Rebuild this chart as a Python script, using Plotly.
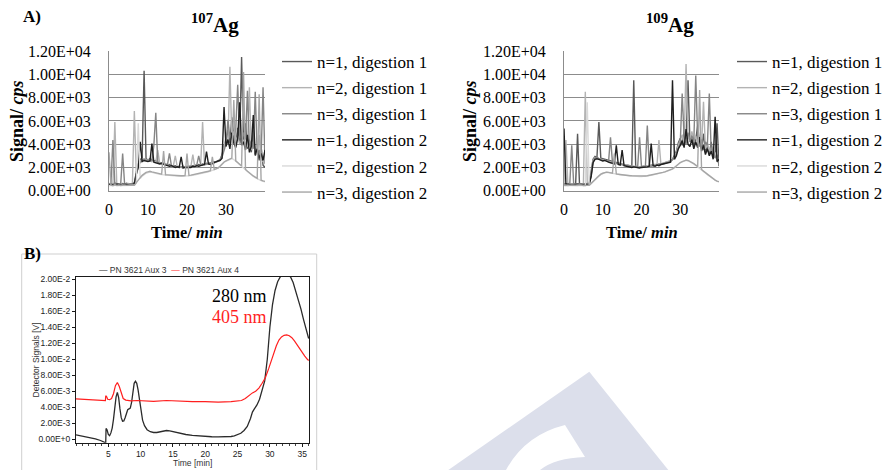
import plotly.graph_objects as go

W, H = 888, 470
PAGE_MARGIN = 0  # body margin is removed by the post_script below

# ---------------- Panel A data (ICP-MS signal, cps) ----------------
TIME_A = [i / 2 for i in range(81)]  # time axis, minutes (0.5 min sampling)

SERIES_NAMES = ["n=1, digestion 1", "n=2, digestion 1", "n=3, digestion 1",
                "n=1, digestion 2", "n=2, digestion 2", "n=3, digestion 2"]
SERIES_COLORS = ["#595959", "#b3b3b3", "#858585", "#1f1f1f", "#d9d9d9", "#a6a6a6"]

A_X_TICKS = [0, 10, 20, 30]
A_Y_TICKS = [0, 2000, 4000, 6000, 8000, 10000, 12000]
A_Y_TICK_LABELS = ["0.00E+00", "2.00E+03", "4.00E+03", "6.00E+03",
                   "8.00E+03", "1.00E+04", "1.20E+04"]

# 107Ag
AG107_N1_D1 = [620, 540, 580, 650, 560, 600, 530, 610, 570, 640,
               590, 560, 620, 680, 1600, 2300, 2650, 2850, 10300, 2750,
               2600, 2750, 2650, 2550, 2600, 2450, 2400, 2300, 2350, 2250,
               2200, 2250, 2150, 2100, 2150, 2050, 2100, 2000, 2050, 2000,
               2100, 2050, 2150, 2100, 2200, 2150, 2250, 2200, 2300, 2250,
               2350, 2300, 2400, 2450, 2500, 2450, 2600, 2700, 3100, 3900,
               4300, 5200, 4100, 6300, 4600, 3900, 5400, 4200, 11500, 4100,
               5800, 3600, 4400, 3300, 5200, 3000, 3400, 2600, 3800, 2200,
               2000]
AG107_N2_D1 = [560, 600, 520, 5900, 540, 580, 610, 520, 560, 590,
               620, 540, 600, 6850, 1500, 2200, 2500, 2700, 2750, 2650,
               2700, 2600, 2500, 2550, 2450, 3500, 2350, 2300, 2250, 2300,
               2200, 2150, 2100, 2150, 3000, 2050, 2000, 2050, 2000, 2050,
               2000, 2050, 2100, 3100, 2050, 2150, 2100, 2200, 5900, 2200,
               2250, 2300, 2250, 2350, 2400, 2450, 2550, 2600, 3000, 3800,
               4600, 4000, 10650, 4400, 5100, 4200, 4700, 4000, 4500, 4300,
               4100, 3800, 8900, 3500, 4200, 3300, 3100, 4800, 2700, 2500,
               2300]
AG107_N3_D1 = [600, 580, 4350, 550, 620, 560, 590, 3200, 570, 600,
               550, 610, 580, 640, 1400, 2100, 2450, 2600, 2700, 2600,
               2650, 2550, 2600, 3900, 6700, 2400, 2350, 2400, 2300, 2250,
               2250, 3200, 2150, 2100, 2100, 2050, 2000, 2050, 2100, 2000,
               2050, 2100, 2050, 2150, 2100, 2200, 3000, 2250, 2200, 2300,
               2300, 2350, 2400, 2350, 2450, 2500, 2550, 2650, 2900, 3500,
               4000, 6100, 4500, 4900, 4300, 5300, 9100, 4600, 4100, 5000,
               4400, 8600, 3900, 4300, 3600, 8500, 3200, 3500, 2900, 8900,
               2400]
AG107_N1_D2 = [500, 560, 520, 480, 550, 510, 530, 490, 540, 520,
               560, 500, 530, 600, 1400, 2000, 4200, 2500, 2600, 2550,
               2500, 2550, 4050, 2450, 2400, 2350, 2300, 2350, 2250, 2200,
               2150, 2100, 2150, 2050, 2000, 2050, 2000, 2900, 1950, 2000,
               2000, 2050, 2000, 2100, 2050, 2150, 2100, 2150, 2200, 2250,
               3350, 2300, 2250, 2350, 2400, 2500, 2550, 2600, 2800, 7200,
               3800, 4400, 3600, 5000, 4100, 3700, 4500, 7600, 3900, 4200,
               3500, 4800, 3300, 3800, 6500, 3100, 3600, 2800, 3200, 2600,
               3500]
AG107_N2_D2 = [420, 460, 400, 480, 430, 450, 410, 470, 440, 460,
               430, 450, 470, 460, 650, 5800, 1050, 1250, 1400, 1500,
               1550, 1600, 1580, 1520, 1480, 1430, 1400, 1380, 1360, 1330,
               1320, 1300, 1280, 1270, 1260, 1250, 1240, 1240, 1240, 1250,
               1260, 1280, 1300, 1330, 1360, 1400, 1430, 1460, 1500, 1540,
               1580, 1630, 1680, 1730, 1780, 1850, 1930, 2080, 2280, 2430,
               2530, 2630, 2730, 2760, 2680, 2530, 2380, 2230, 2080, 1930,
               1780, 1630, 1480, 1360, 1230, 1130, 1030, 940, 870, 810,
               770]
AG107_N3_D2 = [3300, 480, 450, 500, 460, 490, 440, 470, 500, 460,
               480, 450, 490, 470, 720, 920, 1120, 1320, 1470, 1570,
               1620, 1670, 1620, 1570, 1520, 1470, 1440, 1420, 3400, 1370,
               1360, 1340, 1320, 1310, 1300, 1290, 1280, 1280, 1280, 1290,
               3200, 1320, 1340, 1370, 1400, 1440, 1470, 1500, 1540, 1580,
               1620, 1670, 1720, 2900, 1820, 1890, 1970, 2120, 2320, 2470,
               2570, 2670, 2770, 2800, 7800, 2570, 2420, 2270, 2120, 10200,
               1820, 1670, 1520, 1400, 1270, 1170, 1070, 8300, 900, 840,
               800]

# 109Ag
AG109_N1_D1 = [600, 560, 620, 580, 540, 600, 570, 4900, 590, 550,
               610, 580, 560, 620, 1500, 2700, 2950, 2850, 5900, 2800,
               2750, 2700, 2650, 2600, 2550, 2500, 2450, 2400, 2350, 2300,
               2300, 2250, 2200, 2200, 2150, 2100, 9500, 2100, 2050, 2050,
               2100, 2050, 2100, 2150, 2100, 2200, 2150, 2250, 2200, 2300,
               2250, 2350, 2400, 2450, 2500, 2550, 2700, 3000, 3400, 4100,
               4500, 3900, 5200, 4400, 9500, 4200, 4800, 3800, 4400, 5600,
               4000, 3600, 4900, 3300, 3800, 3100, 4200, 2800, 3000, 5800,
               2100]
AG109_N2_D1 = [550, 4350, 520, 580, 540, 600, 530, 560, 590, 520,
               560, 8500, 600, 580, 1400, 2600, 2850, 2800, 2750, 2700,
               2700, 2650, 2600, 2550, 2500, 2450, 2400, 2350, 2300, 2300,
               2250, 2200, 2200, 2150, 2100, 2100, 2050, 2100, 2050, 2050,
               2050, 2100, 2100, 2150, 2150, 2200, 2200, 2250, 2250, 4350,
               2300, 2350, 2400, 2450, 2500, 2600, 2650, 2900, 3300, 3900,
               4400, 4800, 4100, 10900, 4600, 4300, 5100, 4200, 4700, 4000,
               4500, 3900, 7650, 3600, 4100, 3400, 3700, 3000, 3300, 2600,
               2300]
AG109_N3_D1 = [580, 600, 550, 620, 3900, 560, 590, 540, 610, 570,
               600, 560, 630, 600, 1300, 2500, 2800, 2900, 2750, 2650,
               2600, 2650, 2550, 2500, 4600, 2450, 2400, 2350, 2300, 2250,
               2250, 2200, 2150, 2150, 2100, 2050, 2100, 2050, 2000, 4600,
               2050, 2100, 2050, 5600, 2150, 2100, 2200, 2150, 2250, 2200,
               2300, 2300, 2350, 2450, 2450, 2500, 2650, 2850, 3200, 3700,
               4100, 8350, 4600, 4000, 5000, 4300, 4700, 4200, 9900, 4500,
               3800, 4400, 3500, 4200, 3900, 8350, 3200, 3500, 2800, 3100,
               2200]
AG109_N1_D2 = [5350, 520, 560, 500, 540, 490, 530, 560, 510, 540,
               500, 550, 520, 560, 1200, 2400, 2700, 2750, 2700, 2600,
               2550, 2600, 2500, 2450, 2400, 2350, 2300, 3900, 2250, 2200,
               3500, 2150, 2100, 2100, 2050, 2000, 2050, 2000, 2000, 1950,
               2000, 2000, 2050, 2050, 2100, 4050, 2150, 2100, 2200, 2150,
               2250, 2300, 2300, 2400, 2400, 2450, 9500, 2700, 3000, 3600,
               3900, 4300, 3700, 5300, 4000, 3800, 4400, 3600, 4200, 3700,
               4600, 3400, 3900, 3100, 3600, 3000, 3400, 2700, 6350, 2500,
               2700]
AG109_N2_D2 = [430, 470, 410, 460, 440, 420, 450, 430, 470, 440,
               460, 420, 7600, 450, 600, 800, 1000, 1150, 1300, 1400,
               1480, 1550, 1580, 1560, 1520, 1480, 1450, 1420, 1400, 1370,
               1350, 1330, 1310, 1290, 1270, 1260, 1250, 1240, 1230, 1220,
               1220, 1230, 1250, 1270, 1300, 1330, 1360, 1390, 1420, 1460,
               1500, 1550, 1600, 1660, 1720, 1780, 1860, 1980, 2150, 2300,
               2400, 2480, 2560, 2610, 2580, 2500, 2400, 2300, 2180, 2060,
               1940, 1800, 1660, 1520, 1380, 1250, 1120, 1000, 890, 800,
               760]
AG109_N3_D2 = [480, 440, 500, 460, 490, 450, 470, 500, 460, 480,
               450, 490, 470, 460, 620, 820, 1020, 1170, 1320, 1420,
               1500, 1570, 1600, 1580, 1540, 1500, 3200, 1440, 1420, 1390,
               1370, 1350, 1330, 1310, 1290, 1280, 1270, 1260, 1250, 1240,
               1240, 1250, 1270, 1290, 1320, 1350, 1380, 1410, 1440, 1480,
               1520, 1570, 1620, 1680, 1740, 1800, 1880, 2000, 2170, 2320,
               2420, 2500, 2580, 2630, 2600, 2520, 2420, 2320, 2200, 2080,
               8650, 1820, 1680, 1540, 1400, 1270, 1140, 1020, 910, 820,
               780]

AG107_SERIES = [AG107_N1_D1, AG107_N2_D1, AG107_N3_D1, AG107_N1_D2, AG107_N2_D2, AG107_N3_D2]
AG109_SERIES = [AG109_N1_D1, AG109_N2_D1, AG109_N3_D1, AG109_N1_D2, AG109_N2_D2, AG109_N3_D2]

# ---------------- Panel B data (UV-Vis detector, V) ----------------
B_NAMES = ["PN 3621 Aux 3", "PN 3621 Aux 4"]
B_COLORS = ["#2b2b2b", "#ff1f1f"]
B_TIME_280 = [0, 1, 2, 3, 3.8, 4.2, 4.6, 4.65, 4.8, 5.0, 5.2, 5.4, 5.6, 5.8, 6.0, 6.2, 6.4,
              6.6, 6.8, 7.0, 7.2, 7.4, 7.6, 7.8, 8.0, 8.2, 8.4, 8.6, 8.8, 9.0, 9.2, 9.4,
              9.6, 9.8, 10.0, 10.3, 10.6, 11.0, 11.5, 12.0, 12.5, 13.0, 13.5, 14.0, 14.5,
              15.0, 16, 17, 18, 19, 20, 21, 22, 23, 24, 24.5, 25, 25.5, 26, 26.5, 27,
              27.3, 27.6, 28, 28.4, 28.8, 29.2, 29.6, 30.0, 30.4, 30.8, 31.2, 31.6, 32.0,
              32.4, 32.8, 33.2, 33.6, 34.0, 34.4, 34.8, 35.2, 35.6, 36.0]
B_SIGNAL_280 = [0.55e-3, 0.40e-3, 0.22e-3, 0.05e-3, -0.15e-3, -0.30e-3, -0.45e-3, 1.35e-3,
                1.20e-3, 0.60e-3, 0.45e-3, 0.80e-3, 1.40e-3, 2.50e-3, 4.00e-3, 5.30e-3,
                5.85e-3, 5.20e-3, 3.80e-3, 2.70e-3, 2.25e-3, 2.30e-3, 2.70e-3, 3.30e-3,
                3.70e-3, 3.80e-3, 3.90e-3, 4.60e-3, 6.20e-3, 7.00e-3, 7.25e-3, 7.00e-3,
                6.20e-3, 4.90e-3, 3.60e-3, 2.40e-3, 1.70e-3, 1.20e-3, 0.95e-3, 0.85e-3,
                0.85e-3, 0.95e-3, 1.05e-3, 1.10e-3, 1.05e-3, 0.95e-3, 0.75e-3, 0.60e-3,
                0.50e-3, 0.42e-3, 0.36e-3, 0.32e-3, 0.30e-3, 0.30e-3, 0.35e-3, 0.42e-3,
                0.55e-3, 0.75e-3, 1.10e-3, 1.60e-3, 2.60e-3, 3.40e-3, 3.80e-3, 4.30e-3,
                5.00e-3, 6.00e-3, 7.30e-3, 10.0e-3, 14.0e-3, 16.8e-3, 18.6e-3, 19.7e-3,
                20.3e-3, 20.6e-3, 20.7e-3, 20.6e-3, 20.3e-3, 19.6e-3, 18.6e-3, 17.5e-3,
                16.3e-3, 15.0e-3, 13.7e-3, 12.6e-3]
B_TIME_405 = [0, 1, 2, 3, 4, 4.55, 4.6, 4.75, 4.9, 5.2, 5.5, 5.8, 6.1, 6.4, 6.7, 7.0, 7.3,
              7.7, 8.5, 9.5, 10.5, 12, 14, 16, 18, 20, 22, 24, 25, 25.6, 26.2, 26.8, 27.3,
              27.8, 28.3, 28.8, 29.3, 29.8, 30.2, 30.6, 31.0, 31.4, 31.8, 32.2, 32.6, 33.0,
              33.4, 33.8, 34.2, 34.6, 35.0, 35.4, 35.8, 36.0]
B_SIGNAL_405 = [5.05e-3, 5.00e-3, 4.95e-3, 4.90e-3, 4.85e-3, 4.85e-3, 5.45e-3, 5.30e-3,
                5.00e-3, 4.95e-3, 5.10e-3, 5.70e-3, 6.70e-3, 7.10e-3, 6.60e-3, 5.70e-3,
                5.10e-3, 4.90e-3, 4.80e-3, 4.85e-3, 4.80e-3, 4.75e-3, 4.85e-3, 4.75e-3,
                4.70e-3, 4.70e-3, 4.65e-3, 4.70e-3, 4.75e-3, 4.85e-3, 5.10e-3, 5.55e-3,
                5.80e-3, 6.00e-3, 6.40e-3, 7.00e-3, 7.70e-3, 8.80e-3, 9.80e-3, 10.8e-3,
                11.7e-3, 12.4e-3, 12.8e-3, 13.0e-3, 13.05e-3, 12.95e-3, 12.7e-3, 12.3e-3,
                11.8e-3, 11.3e-3, 10.8e-3, 10.4e-3, 10.0e-3, 9.85e-3]
B_X_TICKS = [5, 10, 15, 20, 25, 30, 35]
B_Y_TICKS = [0, 0.002, 0.004, 0.006, 0.008, 0.010, 0.012, 0.014, 0.016, 0.018, 0.020]
B_Y_TICK_LABELS = ["0.00E+0", "2.00E-3", "4.00E-3", "6.00E-3", "8.00E-3", "1.00E-2",
                   "1.20E-2", "1.40E-2", "1.60E-2", "1.80E-2", "2.00E-2"]

SERIF = "Liberation Serif, Times New Roman, serif"
SANS = "Liberation Sans, Arial, sans-serif"


def px(xp):
    """Window pixel (x) -> paper fraction."""
    return (xp - PAGE_MARGIN) / W


def py(yp):
    """Window pixel (y, from top) -> paper fraction."""
    return 1 - (yp - PAGE_MARGIN) / H


fig = go.Figure()

for panel, series_list, xa, ya, leg in [("a1", AG107_SERIES, "x", "y", "legend"),
                                        ("a2", AG109_SERIES, "x2", "y2", "legend2")]:
    for i, vals in enumerate(series_list):
        fig.add_trace(go.Scatter(
            x=TIME_A, y=vals, mode="lines", name=SERIES_NAMES[i],
            line=dict(color=SERIES_COLORS[i], width=1.4),
            xaxis=xa, yaxis=ya, legend=leg, legendgroup=f"{panel}{i}",
            hoverinfo="skip"))

fig.add_trace(go.Scatter(x=B_TIME_280, y=B_SIGNAL_280, mode="lines", name=B_NAMES[0],
                         line=dict(color=B_COLORS[0], width=1.3), showlegend=False,
                         xaxis="x3", yaxis="y3"))
fig.add_trace(go.Scatter(x=B_TIME_405, y=B_SIGNAL_405, mode="lines", name=B_NAMES[1],
                         line=dict(color=B_COLORS[1], width=1.2), showlegend=False,
                         xaxis="x3", yaxis="y3"))

GRID = "#8c8c8c"
a_x_common = dict(range=[0, 40], tickvals=A_X_TICKS, showgrid=False, showline=True,
                  linecolor=GRID, linewidth=1, ticks="", zeroline=False,
                  tickfont=dict(family=SERIF, size=16, color="black"),
                  ticklabelstandoff=4, fixedrange=True, automargin=False)
a_y_common = dict(range=[0, 12010], tickvals=A_Y_TICKS, ticktext=A_Y_TICK_LABELS,
                  showgrid=True, gridcolor=GRID, gridwidth=1, showline=True,
                  linecolor=GRID, linewidth=1, ticks="", zeroline=False,
                  tickfont=dict(family=SERIF, size=16, color="black"),
                  ticklabelstandoff=14, fixedrange=True, automargin=False)

legend_common = dict(xref="container", yref="container", xanchor="left", yanchor="top",
                     bgcolor="rgba(0,0,0,0)",
                     font=dict(family=SERIF, size=17, color="black"),
                     tracegroupgap=1, itemwidth=30)

fig.update_layout(
    width=W, height=H, autosize=False,
    margin=dict(l=0, r=0, t=0, b=0, autoexpand=False),
    paper_bgcolor="white", plot_bgcolor="white",
    showlegend=True,
    xaxis=dict(domain=[px(109), px(265)], anchor="y", **a_x_common),
    yaxis=dict(domain=[py(190.7), py(51)], anchor="x", **a_y_common),
    xaxis2=dict(domain=[px(564), px(719)], anchor="y2", **a_x_common),
    yaxis2=dict(domain=[py(190.7), py(51)], anchor="x2", **a_y_common),
    xaxis3=dict(domain=[px(76), px(309.3)], anchor="y3", range=[0, 36.1],
                tickvals=B_X_TICKS, showgrid=False, showline=True, mirror=True,
                linecolor="#1a1a1a", linewidth=1, ticks="outside", ticklen=3,
                tickcolor="#1a1a1a", zeroline=False, automargin=False,
                minor=dict(dtick=1, ticks="outside", ticklen=2, tickcolor="#444"),
                tickfont=dict(family=SANS, size=8.5, color="#222"), fixedrange=True),
    yaxis3=dict(domain=[py(442.7), py(276.7)], anchor="x3", range=[-0.000425, 0.020325],
                tickvals=B_Y_TICKS, ticktext=B_Y_TICK_LABELS, showgrid=False,
                showline=True, mirror=True, linecolor="#1a1a1a", linewidth=1,
                ticks="outside", ticklen=3, tickcolor="#1a1a1a", zeroline=False,
                automargin=False, ticklabelstandoff=0,
                tickfont=dict(family=SANS, size=8.5, color="#222"), fixedrange=True),
    legend=dict(x=px(277), y=py(44), **legend_common),
    legend2=dict(x=px(732), y=py(44), **legend_common),
)

# legend strip of the detector screenshot (panel B)
b_legend_text = (f"<span style='color:{B_COLORS[0]}'>—</span> {B_NAMES[0]}  "
                 f"<span style='color:{B_COLORS[1]}'>—</span> {B_NAMES[1]}")

annotations = [
    dict(x=px(32), y=py(16), text="<b>A)</b>", font=dict(family=SERIF, size=17, color="black")),
    dict(x=px(215), y=py(24), text="<b><sup>107</sup>Ag</b>", font=dict(family=SERIF, size=21, color="black")),
    dict(x=px(670), y=py(24), text="<b><sup>109</sup>Ag</b>", font=dict(family=SERIF, size=21, color="black")),
    dict(x=px(17), y=py(121), text="<b>Signal/ <i>cps</i></b>", textangle=-90,
         font=dict(family=SERIF, size=18, color="black")),
    dict(x=px(470), y=py(121), text="<b>Signal/ <i>cps</i></b>", textangle=-90,
         font=dict(family=SERIF, size=18, color="black")),
    dict(x=px(187), y=py(232), text="<b>Time/ <i>min</i></b>", font=dict(family=SERIF, size=16.5, color="black")),
    dict(x=px(641.5), y=py(232), text="<b>Time/ <i>min</i></b>", font=dict(family=SERIF, size=16.5, color="black")),
    dict(x=px(32), y=py(253), text="<b>B)</b>", font=dict(family=SERIF, size=17, color="black")),
    dict(x=px(169), y=py(269.5), text=b_legend_text, font=dict(family=SANS, size=8.5, color="#333")),
    dict(x=px(35.5), y=py(360), text="Detector Signals [V]", textangle=-90,
         font=dict(family=SANS, size=8.5, color="#333")),
    dict(x=px(192.5), y=py(462.5), text="Time [min]", font=dict(family=SANS, size=8.5, color="#333")),
    dict(x=px(269), y=py(296), text="280 nm", xanchor="right", font=dict(family=SERIF, size=18, color="black")),
    dict(x=px(269), y=py(317), text="405 nm", xanchor="right", font=dict(family=SERIF, size=18, color="#ff1f1f")),
]
for a in annotations:
    a.setdefault("xanchor", "center")
    a.update(xref="paper", yref="paper", yanchor="middle", showarrow=False)
fig.update_layout(annotations=annotations)

shapes = [
    # frame around panel B screenshot
    dict(type="rect", xref="paper", yref="paper", x0=px(21.7), x1=px(316.7), y0=py(485), y1=py(254),
         line=dict(color="#cfcfcf", width=1), fillcolor="rgba(0,0,0,0)", layer="below"),
    # light watermark
    dict(type="path", xref="paper", yref="paper",
         path=f"M {px(589.3)},{py(371.7)} L {px(668.3)},{py(470)} L {px(448.3)},{py(470)} Z",
         fillcolor="#dcdfeb", line=dict(width=0), layer="below"),
    dict(type="path", xref="paper", yref="paper",
         path=(f"M {px(565)},{py(425)} Q {px(525)},{py(435)} {px(506)},{py(470)} "
               f"L {px(540)},{py(470)} Q {px(555)},{py(458)} {px(585)},{py(457)} Z"),
         fillcolor="white", line=dict(width=0), layer="below"),
]
fig.update_layout(shapes=shapes)

fig.write_html("out.html", config={"displayModeBar": False, "staticPlot": True},
               post_script="document.body.style.margin = '0px';")
